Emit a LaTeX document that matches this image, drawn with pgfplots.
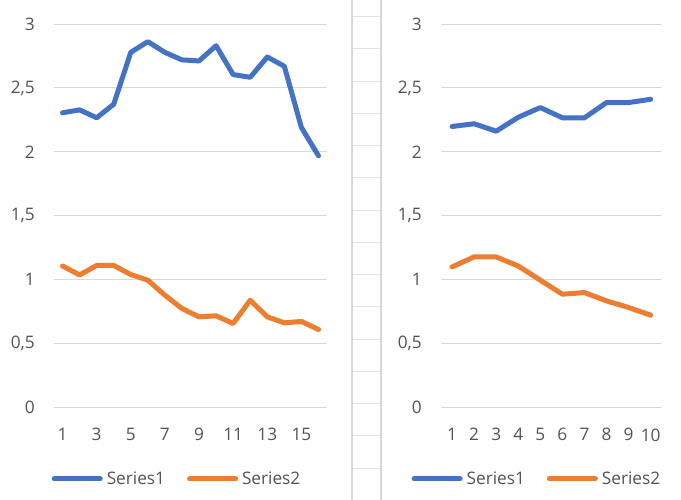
\documentclass[border=0pt]{standalone}
\usepackage{pgfplots}
\pgfplotsset{compat=1.18}
\usepackage{fontspec}
\setmainfont{Open Sans}
\definecolor{xblue}{HTML}{4472C4}
\definecolor{xorange}{HTML}{ED7D31}
\definecolor{xgrid}{HTML}{D9D9D9}
\definecolor{xtext}{HTML}{545454}
\definecolor{xcell}{HTML}{D6D6D6}
\definecolor{xcellh}{HTML}{E2E2E2}
\pgfplotsset{
 xlstyle/.style={
  scale only axis,
  axis line style={draw=none},
  major tick length=0pt,
  /pgf/number format/assume math mode=true,
  ymin=0, ymax=3,
  ytick={0,0.5,1,1.5,2,2.5,3},
  yticklabels={0,{0,5},1,{1,5},2,{2,5},3},
  ymajorgrids,
  grid style={xgrid, line width=1bp},
  tick label style={font=\fontsize{17.3}{21}\selectfont, text=xtext, inner sep=0pt},
  yticklabel style={anchor=east, xshift=-19bp},
  xticklabel style={anchor=north, yshift=-21bp},
  legend style={draw=none, fill=none, legend columns=2, font=\fontsize{17.3}{21}\selectfont, text=xtext, column sep=4bp, nodes={inner sep=0pt}, /tikz/every even column/.append style={column sep=22bp}},
  legend image code/.code={\draw[##1, line cap=round] (0bp,0bp) -- (46bp,0bp);},
  every axis plot/.append style={line width=5bp, line join=round, line cap=round, no markers},
 }
}
\begin{document}
\begin{tikzpicture}
\useasboundingbox (0,0) rectangle (681bp,-500bp);
\fill[white] (0,0) rectangle (681bp,-500bp);
\draw[xcell, line width=2bp] (352.3bp,0) -- (352.3bp,-500bp);
\draw[xcell, line width=2bp] (381bp,0) -- (381bp,-500bp);
\foreach \k in {0,...,14} {
  \draw[xcellh, line width=1bp] (353.3bp,{-16.7bp-32.25bp*\k}) -- (380bp,{-16.7bp-32.25bp*\k});
}
\begin{axis}[xlstyle,
  at={(54bp,-407.3bp)}, anchor=south west,
  width=273bp, height=383.3bp,
  xmin=0.5, xmax=16.5, xtick={1,3,5,7,9,11,13,15},
  legend style={at={(0.447,-0.187)}, anchor=center}]
\addplot[xblue] coordinates {
(1,2.305) (2,2.328) (3,2.266) (4,2.372) (5,2.778) (6,2.862) (7,2.778) (8,2.719)
(9,2.711) (10,2.83) (11,2.604) (12,2.583) (13,2.742) (14,2.669) (15,2.19) (16,1.969)};
\addlegendentry{Series1}
\addplot[xorange] coordinates {
(1,1.106) (2,1.036) (3,1.11) (4,1.11) (5,1.039) (6,0.995) (7,0.877) (8,0.773)
(9,0.708) (10,0.716) (11,0.656) (12,0.838) (13,0.708) (14,0.661) (15,0.672) (16,0.609)};
\addlegendentry{Series2}
\end{axis}
\begin{axis}[xlstyle,
  at={(441bp,-407.3bp)}, anchor=south west,
  width=220.7bp, height=383.3bp,
  xmin=0.5, xmax=10.5, xtick={1,2,3,4,5,6,7,8,9,10},
  legend style={at={(0.430,-0.187)}, anchor=center}]
\addplot[xblue] coordinates {
(1,2.198) (2,2.219) (3,2.161) (4,2.27) (5,2.346) (6,2.266) (7,2.266) (8,2.385) (9,2.385) (10,2.411)};
\addlegendentry{Series1}
\addplot[xorange] coordinates {
(1,1.099) (2,1.177) (3,1.177) (4,1.106) (5,0.995) (6,0.885) (7,0.898) (8,0.833) (9,0.781) (10,0.721)};
\addlegendentry{Series2}
\end{axis}
\end{tikzpicture}
\end{document}
